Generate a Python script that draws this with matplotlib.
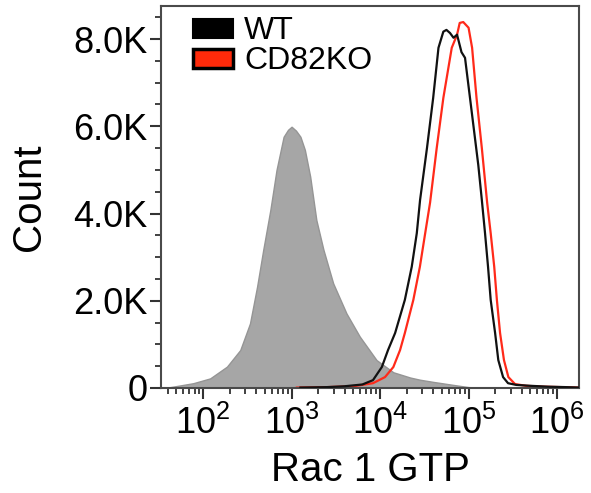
import numpy as np
import matplotlib
matplotlib.use("Agg")
import matplotlib.pyplot as plt
from matplotlib.patches import Patch
from matplotlib.ticker import LogLocator, MultipleLocator, FuncFormatter, NullFormatter

plt.rcParams['font.family'] = ['Liberation Sans', 'DejaVu Sans']
plt.rcParams['mathtext.fontset'] = 'custom'
plt.rcParams['mathtext.rm'] = 'Liberation Sans'
plt.rcParams['mathtext.it'] = 'Liberation Sans'
plt.rcParams['mathtext.default'] = 'regular'

# Histogram traces: log10(Rac 1 GTP intensity) and event counts (thousands)
isotype_log = [1.55, 1.63, 1.89, 2.08, 2.27, 2.42, 2.53, 2.61, 2.68, 2.76, 2.83, 2.91,
               2.96, 3.00, 3.05, 3.10, 3.15, 3.21, 3.28, 3.36, 3.47, 3.62, 3.77, 3.96,
               4.15, 4.34, 4.45, 4.60, 4.83, 5.00, 5.20]
isotype_k = [0.00, 0.02, 0.11, 0.22, 0.49, 0.87, 1.48, 2.32, 3.17, 4.08, 5.00, 5.76,
             5.92, 5.99, 5.90, 5.76, 5.46, 4.85, 3.85, 3.17, 2.40, 1.71, 1.18, 0.64,
             0.36, 0.24, 0.19, 0.14, 0.07, 0.02, 0.00]

wt_log = [3.10, 3.40, 3.60, 3.80, 3.92, 4.02, 4.09, 4.17, 4.28, 4.358, 4.415, 4.452,
          4.53, 4.60, 4.66, 4.715, 4.75, 4.79, 4.83, 4.87, 4.92, 4.96, 5.04, 5.11,
          5.15, 5.186, 5.22, 5.25, 5.30, 5.336, 5.39, 5.446, 5.54, 5.70, 5.90, 6.10,
          6.25]
wt_k = [0.01, 0.02, 0.04, 0.08, 0.18, 0.48, 0.87, 1.26, 2.02, 2.78, 3.55, 4.31,
        5.50, 6.65, 7.80, 8.17, 8.21, 8.14, 8.03, 8.10, 7.70, 7.57, 6.26, 5.11,
        4.31, 3.55, 2.78, 2.02, 1.26, 0.64, 0.25, 0.11, 0.07, 0.05, 0.03, 0.02,
        0.01]

ko_log = [3.06, 3.40, 3.70, 3.92, 4.056, 4.15, 4.226, 4.28, 4.376, 4.45, 4.51, 4.565,
          4.64, 4.715, 4.81, 4.87, 4.90, 4.94, 5.00, 5.04, 5.09, 5.15, 5.21, 5.25,
          5.29, 5.32, 5.356, 5.40, 5.45, 5.525, 5.65, 5.85, 6.05, 6.25]
ko_k = [0.01, 0.02, 0.04, 0.11, 0.25, 0.48, 0.87, 1.26, 2.02, 2.78, 3.55, 4.25,
        5.50, 6.65, 7.80, 8.10, 8.37, 8.39, 8.26, 7.80, 6.65, 5.50, 4.25, 3.55,
        2.78, 2.02, 1.26, 0.64, 0.25, 0.09, 0.05, 0.03, 0.02, 0.01]

legend_labels = ["WT", "CD82KO"]
y_ticks_k = [0, 2, 4, 6, 8]
y_tick_labels = ["0", "2.0K", "4.0K", "6.0K", "8.0K"]

fig = plt.figure(figsize=(5.91, 4.93), dpi=100)
ax = fig.add_axes([0.2725, 0.213, 0.7075, 0.775])

iso_x = 10 ** np.asarray(isotype_log)
ax.fill_between(iso_x, 0, np.asarray(isotype_k) * 1000, facecolor="#a6a6a6",
                edgecolor="#959595", linewidth=1.0, zorder=1)
ax.plot(10 ** np.asarray(wt_log), np.asarray(wt_k) * 1000, color="#111111",
        linewidth=1.6, zorder=3, solid_joinstyle="round")
ax.plot(10 ** np.asarray(ko_log), np.asarray(ko_k) * 1000, color="#ff2a1a",
        linewidth=1.6, zorder=2, solid_joinstyle="round")

ax.set_xscale("log")
ax.set_xlim(10 ** 1.525, 10 ** 6.25)
ax.set_ylim(0, 8760)

ax.xaxis.set_major_locator(LogLocator(base=10, numticks=10))
ax.xaxis.set_minor_locator(LogLocator(base=10, subs=np.arange(2, 10), numticks=20))
ax.xaxis.set_major_formatter(FuncFormatter(lambda v, p: r"$10^{%d}$" % round(np.log10(v))))
ax.xaxis.set_minor_formatter(NullFormatter())

ax.set_yticks([v * 1000 for v in y_ticks_k])
ax.set_yticklabels(y_tick_labels)
ax.yaxis.set_minor_locator(MultipleLocator(500))

for side in ["left", "right", "top", "bottom"]:
    ax.spines[side].set_color("#4a4a4a")
    ax.spines[side].set_linewidth(1.5)

ax.tick_params(axis="both", which="major", direction="out", length=8, width=1.5,
               color="#333333", labelsize=26)
ax.tick_params(axis="both", which="minor", direction="out", length=4.5, width=1.3,
               color="#333333")
ax.tick_params(axis="y", which="major", pad=2)
ax.tick_params(axis="x", which="major", pad=5)

ax.set_ylabel("Count", fontsize=29, labelpad=18)
ax.set_xlabel("Rac 1 GTP", fontsize=29, labelpad=6)

handles = [Patch(facecolor="black", edgecolor="black", linewidth=1.5),
           Patch(facecolor="#ff2a0a", edgecolor="black", linewidth=2.5)]
ax.legend(handles, legend_labels, loc="upper left", bbox_to_anchor=(0.065, 0.985),
          frameon=False, fontsize=23, handlelength=1.25, handleheight=0.55,
          handletextpad=0.35, labelspacing=0.0, borderpad=0.15, borderaxespad=0)

fig.savefig("out.png", dpi=100)
